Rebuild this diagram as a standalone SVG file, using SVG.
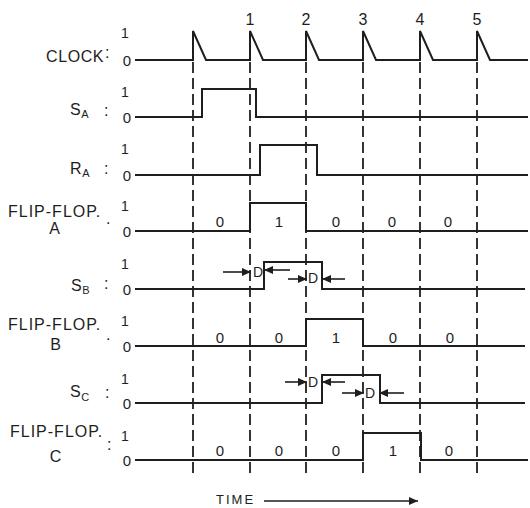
<svg xmlns="http://www.w3.org/2000/svg" width="530" height="508" viewBox="0 0 530 508">
<style>
text{font-family:"Liberation Sans",Arial,sans-serif;fill:#1e1e1e}
.lbl{font-size:16px;letter-spacing:0.6px}
.ff{font-size:16px;letter-spacing:1px}
.sub{font-size:11px}
.z{font-size:15px;text-anchor:middle}
.one{font-size:14px;text-anchor:middle}
.st{font-size:15px;text-anchor:middle}
.num{font-size:16px;text-anchor:middle}
.d{font-size:14px;text-anchor:middle}
.wave{fill:none;stroke:#1e1e1e;stroke-width:2;stroke-linejoin:miter}
.dash{stroke:#1e1e1e;stroke-width:1.8;stroke-dasharray:11 5}
.arr{stroke:#1e1e1e;stroke-width:1.6;marker-end:url(#ah)}
</style>
<defs>
<marker id="ah" markerUnits="userSpaceOnUse" markerWidth="10" markerHeight="8" refX="9" refY="4" orient="auto">
<path d="M0,0 L9,4 L0,8 Z" fill="#1e1e1e"/>
</marker>
</defs>
<rect width="530" height="508" fill="#fff"/>

<g id="timeline-marks">
<line class="dash" x1="193" y1="62" x2="193" y2="478"/>
<line class="dash" x1="250" y1="62" x2="250" y2="478"/>
<line class="dash" x1="306" y1="62" x2="306" y2="478"/>
<line class="dash" x1="363" y1="62" x2="363" y2="478"/>
<line class="dash" x1="420" y1="62" x2="420" y2="478"/>
<line class="dash" x1="477" y1="62" x2="477" y2="478"/>
<text class="num" x="250" y="25">1</text>
<text class="num" x="306" y="25">2</text>
<text class="num" x="363" y="25">3</text>
<text class="num" x="420" y="25">4</text>
<text class="num" x="477" y="25">5</text>
</g>

<g id="clock">
<text class="lbl" x="46" y="62">CLOCK</text>
<text class="lbl" x="105" y="58">:</text>
<text class="one" x="125" y="38">1</text>
<text class="z" x="127" y="65.5">0</text>
<path class="wave" d="M135,60 H193 V31 L206,60 H250 V31 L263,60 H306 V31 L319,60 H363 V31 L376,60 H420 V31 L433,60 H477 V31 L490,60 H528"/>
</g>

<g id="sa">
<text class="lbl" x="70" y="115">S<tspan class="sub" dy="3">A</tspan></text>
<text class="lbl" x="104" y="116">:</text>
<text class="one" x="125" y="97">1</text>
<text class="z" x="127" y="122.5">0</text>
<path class="wave" d="M135,117 H202 V89 H256 V117 H528"/>
</g>

<g id="ra">
<text class="lbl" x="70" y="174">R<tspan class="sub" dy="3">A</tspan></text>
<text class="lbl" x="104" y="174">:</text>
<text class="one" x="125" y="154">1</text>
<text class="z" x="127" y="180.5">0</text>
<path class="wave" d="M135,175 H260 V145 H317 V175 H528"/>
</g>

<g id="ffa">
<text class="ff" x="8" y="217">FLIP-FLOP.</text>
<text class="ff" x="55" y="234" text-anchor="middle">A</text>
<text class="lbl" x="106" y="224">.</text>
<text class="one" x="125" y="211">1</text>
<text class="z" x="127" y="236.5">0</text>
<path class="wave" d="M135,231 H250 V203 H306 V231 H528"/>
<text class="st" x="220" y="227">0</text>
<text class="st" x="279" y="227">1</text>
<text class="st" x="336" y="227">0</text>
<text class="st" x="392" y="227">0</text>
<text class="st" x="448" y="227">0</text>
</g>

<g id="sb">
<text class="lbl" x="71" y="291">S<tspan class="sub" dy="3">B</tspan></text>
<text class="lbl" x="104" y="289">:</text>
<text class="one" x="125" y="269">1</text>
<text class="z" x="127" y="294.5">0</text>
<path class="wave" d="M135,289 H264 V262 H322 V289 H525"/>
<text class="d" x="258" y="277">D</text>
<text class="d" x="313" y="283">D</text>
</g>

<g id="ffb">
<text class="ff" x="8" y="330">FLIP-FLOP.</text>
<text class="ff" x="56" y="350" text-anchor="middle">B</text>
<text class="lbl" x="106" y="340">.</text>
<text class="one" x="125" y="326">1</text>
<text class="z" x="127" y="351.5">0</text>
<path class="wave" d="M135,346 H306 V319 H363 V346 H525"/>
<text class="st" x="220" y="343">0</text>
<text class="st" x="279" y="343">0</text>
<text class="st" x="336" y="343">1</text>
<text class="st" x="393" y="343">0</text>
<text class="st" x="450" y="343">0</text>
</g>

<g id="sc">
<text class="lbl" x="70" y="397">S<tspan class="sub" dy="4">C</tspan></text>
<text class="lbl" x="105" y="398">:</text>
<text class="one" x="125" y="384">1</text>
<text class="z" x="127" y="408.5">0</text>
<path class="wave" d="M135,403 H322 V375 H380 V403 H525"/>
<text class="d" x="313" y="387">D</text>
<text class="d" x="370" y="398">D</text>
</g>

<g id="ffc">
<text class="ff" x="10" y="437">FLIP-FLOP.</text>
<text class="ff" x="56" y="462" text-anchor="middle">C</text>
<text class="lbl" x="107" y="450">:</text>
<text class="one" x="125" y="441">1</text>
<text class="z" x="127" y="465.5">0</text>
<path class="wave" d="M135,460 H363 V433 H421 V460 H528"/>
<text class="st" x="220" y="456">0</text>
<text class="st" x="279" y="456">0</text>
<text class="st" x="336" y="456">0</text>
<text class="st" x="393" y="456">1</text>
<text class="st" x="449" y="456">0</text>
</g>

<g id="connectors">
<line class="arr" x1="223" y1="272" x2="251" y2="272"/>
<line class="arr" x1="290" y1="270" x2="264" y2="270"/>
<line class="arr" x1="288" y1="279" x2="307" y2="279"/>
<line class="arr" x1="345" y1="279" x2="322" y2="279"/>
<line class="arr" x1="285" y1="382" x2="307" y2="382"/>
<line class="arr" x1="345" y1="382" x2="322" y2="382"/>
<line class="arr" x1="342" y1="393" x2="364" y2="393"/>
<line class="arr" x1="404" y1="393" x2="379" y2="393"/>
<line class="arr" x1="264" y1="501" x2="418" y2="501"/>
</g>

<g id="time">
<text x="216" y="504" style="font-size:13px;letter-spacing:2px">TIME</text>
</g>
</svg>
